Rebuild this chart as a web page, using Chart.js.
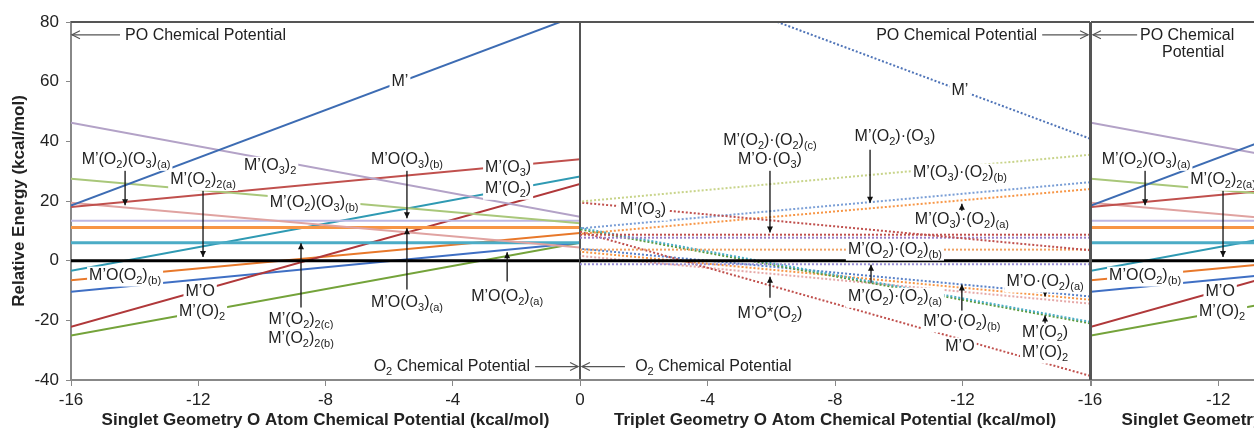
<!DOCTYPE html>
<html>
<head>
<meta charset="utf-8">
<script src="https://cdn.jsdelivr.net/npm/chart.js@4.4.0/dist/chart.umd.min.js"></script>
<style>
  html, body { margin: 0; padding: 0; background: #fff; overflow: hidden; }
  #wrap { position: relative; width: 1254px; height: 432px; overflow: hidden; }
  canvas { position: absolute; top: 0; left: 0; }
</style>
</head>
<body>
<div id="wrap">
  <canvas id="c1" width="1254" height="432"></canvas>
  <canvas id="c2" width="1254" height="432"></canvas>
  <canvas id="c3" width="1700" height="432"></canvas>
</div>
<script>
// ---- data ----
const xTicks = [-16, -12, -8, -4, 0];
const yTicks = [80, 60, 40, 20, 0, -20, -40];
const xEnds = [-16, 0];

// singlet geometry (left + right panels): energy at mu = -16 and mu = 0
const singletNames = ["M'(O2)2(a)", "M'", "M'(O3)2", "M'(O2)(O3)(b)", "M'(O3)", "M'(O2)(O3)(a)",
  "M'O(O3)(b)", "M'O(O3)(a)", "M'(O2)2(b,c)", "M'(O2)", "M'O", "M'O(O2)(a)", "M'O(O2)(b)", "M'(O)2"];
const singletAt16 = [0, 18.5, 46.2, 27.5, 18.0, 19.4, 13.4, 11.1, 6.0, -3.4, -22.2, -10.4, -6.6, -25.1];
const singletAt0 = [0, 82.5, 14.7, 12.5, 34.0, 4.4, 13.4, 11.1, 6.0, 28.2, 25.7, 6.0, 9.3, 6.0];
const singletColors = ['#000000', '#3d6cb3', '#b3a2c7', '#a9c77a', '#c0504d', '#e0a3a1',
  '#bdb7e3', '#f79646', '#4bacc6', '#2f9ab3', '#b0383a', '#3f6fc4', '#e8782a', '#74a33a'];
const singletWidths = [3, 2, 2, 2, 2, 2, 2, 3, 3, 2, 2, 2, 2, 2];

// triplet geometry (middle panel): energy at mu = -16 and mu = 0
const tripletNames = ["ref", "M'", "M'(O3).(O2)(b)", "M'(O3)", "M'(O2).(O3)", "M'(O3).(O2)(a)",
  "M'(O2).(O2)(c)", "M'O.(O3)", "M'(O2).(O2)(b)", "M'(O2).(O2)(a)", "M'(O2)", "M'(O)2", "M'O",
  "M'O.(O2)(a)", "M'O.(O2)(b)", "M'O*(O2)"];
const tripletAt16 = [0, 40.9, 35.5, 3.5, 26.3, 24.0, 8.7, 7.7, 3.7, -1.2, -20.5, -21.0, -38.6, -12.0, -13.1, -14.4];
const tripletAt0 = [0, 104.7, 19.8, 19.5, 10.8, 9.0, 8.7, 7.7, 3.7, -1.2, 11.0, 10.5, 9.7, 4.0, 3.0, 1.6];
const tripletColors = ['#000000', '#4f74b8', '#c8d48a', '#c0504d', '#7b9fd6', '#f79646',
  '#c0504d', '#9a7cc6', '#f0a060', '#9a90d8', '#4bacc6', '#5a9a3a', '#c0504d', '#5a82c8', '#f79646', '#e6a9a8'];

// ---- annotations: [text, x, y, align] and arrows [x1, y1, x2, y2, kind] ----
const leftLabels = [
  ["M’", -5.66, 59.9],
  ["M’(O_2)(O_3)_{(a)}", -14.27, 33.8],
  ["M’(O_2)_{2(a)}", -11.85, 27.1],
  ["M’(O_3)_2", -9.74, 31.8],
  ["M’(O_2)(O_3)_{(b)}", -8.36, 19.4],
  ["M’O(O_3)_{(b)}", -5.44, 33.8],
  ["M’(O_3)", -2.26, 31.2],
  ["M’(O_2)", -2.26, 24.1],
  ["M’O(O_2)_{(b)}", -14.3, -5.0],
  ["M’O", -11.94, -10.4],
  ["M’(O)_2", -11.88, -17.1],
  ["M’(O_2)_{2(c)}", -8.77, -19.8],
  ["M’(O_2)_{2(b)}", -8.77, -26.1],
  ["M’O(O_3)_{(a)}", -5.44, -14.1],
  ["M’O(O_2)_{(a)}", -2.29, -12.1]
];
const leftArrows = [
  [-14.3, 30.8, -14.3, 18.6, 'solid'],
  [-11.85, 24.5, -11.85, 1.2, 'solid'],
  [-5.44, 31.2, -5.44, 14.2, 'solid'],
  [-8.77, -15.7, -8.77, 5.8, 'solid'],
  [-5.44, -9.7, -5.44, 10.9, 'solid'],
  [-2.29, -7.0, -2.29, 2.8, 'solid']
];
const midLabels = [
  ["PO Chemical Potential", -14.34, 75.4, 'right'],
  ["M’", -11.92, 57.0],
  ["M’(O_2)·(O_2)_{(c)}", -5.96, 40.2],
  ["M’O·(O_3)", -5.96, 33.8],
  ["M’(O_2)·(O_3)", -9.88, 41.5],
  ["M’(O_3)·(O_2)_{(b)}", -11.92, 29.5],
  ["M’(O_3)", -1.98, 17.1],
  ["M’(O_3)·(O_2)_{(a)}", -11.98, 13.7],
  ["M’(O_2)·(O_2)_{(b)}", -9.88, 3.7],
  ["M’(O_2)·(O_2)_{(a)}", -9.88, -12.1],
  ["M’O*(O_2)", -5.96, -17.8],
  ["M’O·(O_2)_{(b)}", -11.98, -20.4],
  ["M’O", -11.92, -28.8],
  ["M’O·(O_2)_{(a)}", -14.59, -7.0],
  ["M’(O_2)", -14.59, -24.1],
  ["M’(O)_2", -14.59, -30.8],
  ["O_2 Chemical Potential", -1.73, -35.5, 'left']
];
const midArrows = [
  [-14.5, 75.7, -15.94, 75.7, 'open'],
  [-5.96, 30.5, -5.96, 9.4, 'solid'],
  [-9.1, 37.2, -9.1, 19.4, 'solid'],
  [-11.98, 16.2, -11.98, 19.1, 'solid'],
  [-9.13, -7.4, -9.13, -1.4, 'solid'],
  [-5.96, -12.4, -5.96, -5.4, 'solid'],
  [-11.98, -16.7, -11.98, -8.0, 'solid'],
  [-14.59, -9.4, -14.59, -12.0, 'solid'],
  [-14.59, -21.1, -14.59, -18.4, 'solid'],
  [-1.41, -35.5, -0.06, -35.5, 'open']
];

// ---- drawing helpers ----
const FONT = '"Liberation Sans", Arial, sans-serif';
const MAIN_FONT = '16px ' + FONT;
const SUB_FONT = '11px ' + FONT;

function richParts(str) {
  const parts = [];
  let i = 0;
  while (i < str.length) {
    if (str[i] === '_') {
      if (str[i + 1] === '{') {
        const j = str.indexOf('}', i);
        parts.push({ t: str.slice(i + 2, j), sub: true });
        i = j + 1;
      } else {
        parts.push({ t: str[i + 1], sub: true });
        i += 2;
      }
    } else {
      let j = i;
      while (j < str.length && str[j] !== '_') j++;
      parts.push({ t: str.slice(i, j), sub: false });
      i = j;
    }
  }
  return parts;
}

function drawRich(ctx, str, x, y, align) {
  const parts = richParts(str);
  let w = 0;
  parts.forEach(p => { ctx.font = p.sub ? SUB_FONT : MAIN_FONT; p.w = ctx.measureText(p.t).width; w += p.w; });
  let x0 = align === 'left' ? x : align === 'right' ? x - w : x - w / 2;
  ctx.fillStyle = '#fff';
  ctx.fillRect(x0 - 2, y - 9, w + 4, 20);
  ctx.fillStyle = '#222';
  ctx.textBaseline = 'middle';
  ctx.textAlign = 'left';
  parts.forEach(p => {
    ctx.font = p.sub ? SUB_FONT : MAIN_FONT;
    ctx.fillText(p.t, x0, p.sub ? y + 5 : y);
    x0 += p.w;
  });
}

function drawArrow(ctx, x1, y1, x2, y2, kind) {
  const ang = Math.atan2(y2 - y1, x2 - x1);
  const open = kind === 'open';
  ctx.save();
  ctx.strokeStyle = open ? '#555' : '#111';
  ctx.fillStyle = '#111';
  ctx.lineWidth = open ? 1.2 : 1.3;
  ctx.beginPath(); ctx.moveTo(x1, y1); ctx.lineTo(x2, y2); ctx.stroke();
  const L = open ? 8 : 6, W = open ? 4 : 3;
  const bx = x2 - L * Math.cos(ang), by = y2 - L * Math.sin(ang);
  const px = -Math.sin(ang) * W, py = Math.cos(ang) * W;
  ctx.beginPath(); ctx.moveTo(bx + px, by + py); ctx.lineTo(x2, y2); ctx.lineTo(bx - px, by - py);
  if (open) ctx.stroke(); else { ctx.closePath(); ctx.fill(); }
  ctx.restore();
}

const notes = {
  id: 'notes',
  afterDatasetsDraw(chart, args, opts) {
    const { ctx, chartArea: a, scales: { x, y } } = chart;
    ctx.save();
    // frame: top edge and right edge of the plot
    ctx.strokeStyle = '#555';
    ctx.lineWidth = 2;
    ctx.beginPath();
    ctx.moveTo(a.left, a.top); ctx.lineTo(a.right, a.top);
    ctx.moveTo(a.right, a.top); ctx.lineTo(a.right, a.bottom);
    if (opts.leftEdge) { ctx.moveTo(a.left, a.top); ctx.lineTo(a.left, a.bottom); }
    ctx.stroke();
    (opts.arrows || []).forEach(r => drawArrow(ctx, x.getPixelForValue(r[0]), y.getPixelForValue(r[1]),
      x.getPixelForValue(r[2]), y.getPixelForValue(r[3]), r[4]));
    (opts.labels || []).forEach(l => drawRich(ctx, l[0], x.getPixelForValue(l[1]), y.getPixelForValue(l[2]), l[3] || 'center'));
    ctx.restore();
  }
};

function buildSets(names, a16, a0, colors, widths, dotted) {
  return names.map((n, i) => ({
    label: n,
    data: [{ x: xEnds[0], y: a16[i] }, { x: xEnds[1], y: a0[i] }],
    borderColor: colors[i],
    borderWidth: widths ? widths[i] : (i === 0 ? 3 : 2),
    borderDash: dotted && i > 0 ? [2, 2] : [],
    pointRadius: 0,
    fill: false,
    tension: 0
  }));
}

function makeChart(id, cfg) {
  const tickFont = { family: FONT, size: 17 };
  const titleFont = { family: FONT, size: 17, weight: 'bold' };
  return new Chart(document.getElementById(id), {
    type: 'line',
    data: { datasets: cfg.datasets },
    options: {
      responsive: false,
      animation: false,
      layout: { padding: cfg.padding },
      plugins: {
        legend: { display: false },
        tooltip: { enabled: false },
        notes: { labels: cfg.labels, arrows: cfg.arrows, leftEdge: cfg.leftEdge }
      },
      scales: {
        x: {
          type: 'linear', min: -16, max: 0, reverse: cfg.reverse,
          afterBuildTicks: s => { s.ticks = xTicks.map(v => ({ value: v })); },
          afterFit: s => { s.height = 52; },
          grid: { drawOnChartArea: false, color: '#888', tickColor: '#888', tickLength: 6 },
          border: { color: '#888', width: 2 },
          ticks: { font: tickFont, color: '#222', padding: 4, maxRotation: 0,
            callback: v => (cfg.hideTick === v ? '' : String(v)) },
          title: { display: true, text: cfg.xTitle, font: titleFont, color: '#222', padding: { top: 0, bottom: 1 } }
        },
        y: {
          type: 'linear', min: -40, max: 80, display: cfg.showY,
          afterBuildTicks: s => { s.ticks = yTicks.map(v => ({ value: v })); },
          afterFit: s => { s.width = cfg.showY ? 71 : 0; },
          grid: { drawOnChartArea: false, color: '#888', tickColor: '#888', tickLength: 5 },
          border: { color: '#888', width: 2 },
          ticks: { font: tickFont, color: '#222', padding: 7 },
          title: { display: true, text: 'Relative Energy (kcal/mol)', font: titleFont, color: '#222', padding: { top: 9, bottom: 0 } }
        }
      }
    },
    plugins: [notes]
  });
}

makeChart('c1', {
  datasets: buildSets(singletNames, singletAt16, singletAt0, singletColors, singletWidths, false),
  padding: { left: 0, right: 1254 - 580, top: 22, bottom: 0 },
  reverse: false, showY: true, hideTick: null,
  xTitle: 'Singlet Geometry O Atom Chemical Potential (kcal/mol)',
  labels: leftLabels.concat([
    ["PO Chemical Potential", -14.3, 75.4, 'left'],
    ["O_2 Chemical Potential", -1.57, -35.5, 'right']
  ]),
  arrows: leftArrows.concat([
    [-14.46, 75.7, -15.97, 75.7, 'open'],
    [-1.41, -35.5, -0.06, -35.5, 'open']
  ])
});

makeChart('c2', {
  datasets: buildSets(tripletNames, tripletAt16, tripletAt0, tripletColors, null, true),
  padding: { left: 580, right: 1254 - 1090, top: 22, bottom: 0 },
  reverse: true, showY: false, hideTick: 0,
  xTitle: 'Triplet Geometry O Atom Chemical Potential (kcal/mol)',
  labels: midLabels,
  arrows: midArrows
});

makeChart('c3', {
  datasets: buildSets(singletNames, singletAt16, singletAt0, singletColors, singletWidths, false),
  padding: { left: 1091, right: 100, top: 22, bottom: 0 },
  reverse: false, showY: false, hideTick: -16, leftEdge: true,
  xTitle: 'Singlet Geometry O Atom Chemical Potential (kcal/mol)',
  labels: leftLabels.concat([
    ["PO Chemical", -14.46, 75.4, 'left'],
    ["Potential", -12.79, 69.7]
  ]),
  arrows: leftArrows.concat([
    [-14.55, 75.7, -15.94, 75.7, 'open']
  ])
});
</script>
</body>
</html>
